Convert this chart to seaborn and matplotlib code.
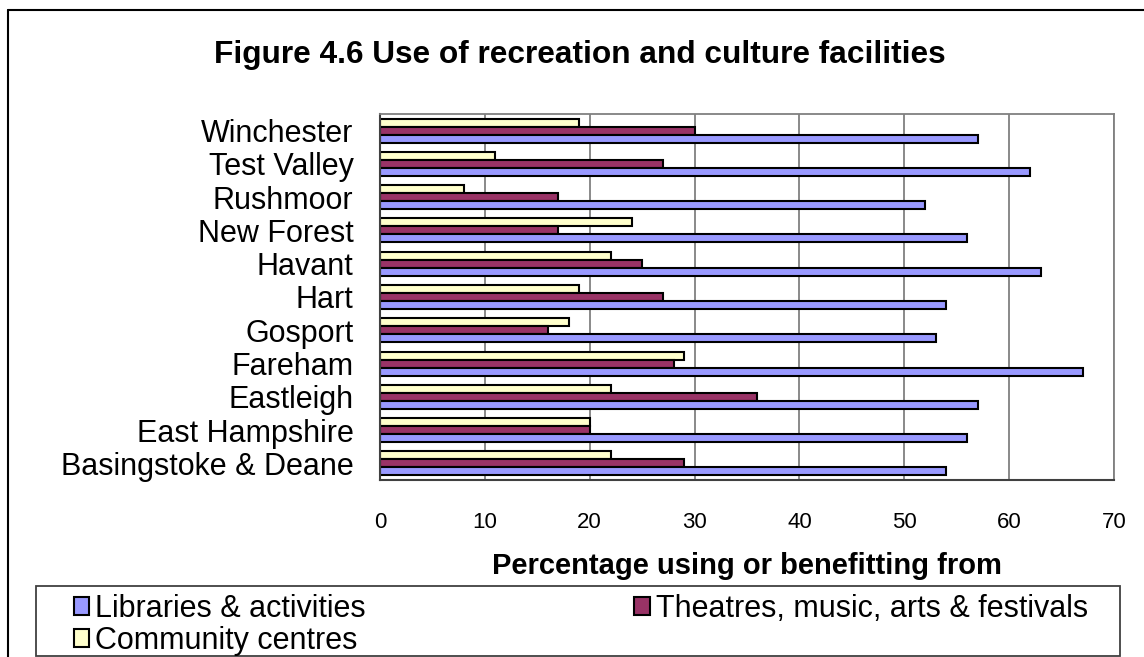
import matplotlib
matplotlib.use("Agg")
import matplotlib.pyplot as plt
import seaborn as sns
import pandas as pd
import numpy as np
from matplotlib.lines import Line2D
from matplotlib.patches import Patch, Rectangle

# districts, top to bottom as in the figure
districts = ['Winchester', 'Test Valley', 'Rushmoor', 'New Forest', 'Havant', 'Hart',
             'Gosport', 'Fareham', 'Eastleigh', 'East Hampshire', 'Basingstoke & Deane']

libraries = [57, 62, 52, 56, 63, 54, 53, 67, 57, 56, 54]
theatres = [30, 27, 17, 17, 25, 27, 16, 28, 36, 20, 29]
community = [19, 11, 8, 24, 22, 19, 18, 29, 22, 20, 22]

series_names = ['Libraries & activities', 'Theatres, music, arts & festivals', 'Community centres']
series_colors = ['#9999FF', '#993366', '#FFFFCC']

x_ticks = [0, 10, 20, 30, 40, 50, 60, 70]

df = pd.DataFrame({
    'District': districts * 3,
    'Facility': [series_names[0]] * 11 + [series_names[1]] * 11 + [series_names[2]] * 11,
    'Percent': libraries + theatres + community,
})

sns.set_style("white")
plt.rcParams['font.family'] = ['Liberation Sans', 'DejaVu Sans']
plt.rcParams['text.color'] = 'black'
plt.rcParams['xtick.color'] = 'black'
plt.rcParams['ytick.color'] = 'black'
plt.rcParams['axes.labelcolor'] = 'black'

W, H = 1144, 657
fig = plt.figure(figsize=(W / 100, H / 100), dpi=100)
fig.patch.set_facecolor('white')

left, right, top, bottom = 380, 1114, 114, 480
ax = fig.add_axes([left / W, 1 - bottom / H, (right - left) / W, (bottom - top) / H])

# hue order reversed so community centres sit on top within each group
hue_order = [series_names[2], series_names[1], series_names[0]]
palette = {n: c for n, c in zip(series_names, series_colors)}
sns.barplot(data=df, y='District', x='Percent', hue='Facility', order=districts,
            hue_order=hue_order, palette=palette, orient='h', width=0.72,
            edgecolor='black', linewidth=1.5, saturation=1, ax=ax, legend=False)

ax.set_xlim(0, 70)
ax.set_ylim(len(districts) - 0.5, -0.5)
ax.set_xticks(x_ticks)
ax.set_xticklabels([str(t) for t in x_ticks], fontsize=16)
ax.xaxis.grid(True, color='#808080', linewidth=1.3)
ax.set_axisbelow(True)
ax.tick_params(axis='x', direction='out', length=7, width=1.2, color='#606060', pad=16)

ax.set_yticks(range(len(districts)))
ax.set_yticklabels(districts, fontsize=22)
ax.set_yticks(np.arange(-0.5, len(districts), 1), minor=True)
ax.tick_params(axis='y', which='major', length=0, pad=19)
ax.tick_params(axis='y', which='minor', direction='out', length=8, width=1.2, color='#606060')

ax.set_ylabel('')
ax.set_xlabel('Percentage using or benefitting from', fontsize=21, fontweight='bold', labelpad=14)

for side in ['top', 'right']:
    ax.spines[side].set_color('#808080')
    ax.spines[side].set_linewidth(1.3)
for side in ['left', 'bottom']:
    ax.spines[side].set_color('#404040')
    ax.spines[side].set_linewidth(1.5)

fig.text(580 / W, 1 - 55 / H, 'Figure 4.6 Use of recreation and culture facilities',
         fontsize=22.8, fontweight='bold', ha='center', va='center')

# outer chart frame (cut at right and bottom like the reference)
fig.add_artist(Line2D([8 / W, 1.0], [1 - 10 / H, 1 - 10 / H], transform=fig.transFigure,
                      color='black', linewidth=1.5))
fig.add_artist(Line2D([8 / W, 8 / W], [1 - 10 / H, 0], transform=fig.transFigure,
                      color='black', linewidth=1.5))

# legend box drawn separately, entries laid out inside it
fig.add_artist(Rectangle((36 / W, 1 - 656 / H), (1120 - 36) / W, 70 / H,
                         transform=fig.transFigure, facecolor='white',
                         edgecolor='#404040', linewidth=1.3, zorder=2))

# legend filled column-wise: libraries + community in col 1, theatres in col 2
order = [0, 2, 1]
handles = [Patch(facecolor=series_colors[i], edgecolor='black', linewidth=1.5) for i in order]
labels = [series_names[i] for i in order]
leg = fig.legend(handles, labels, ncol=2, loc='upper left', mode='expand',
                 bbox_to_anchor=(74 / W, 1 - 664 / H, (1088 - 74) / W, 70 / H),
                 fontsize=22, frameon=False, borderaxespad=0,
                 handlelength=0.5, handleheight=0.5, handletextpad=0.2,
                 labelspacing=0.06, borderpad=0.0, columnspacing=1.0)
leg.set_zorder(3)

fig.savefig('out.png', dpi=100)
